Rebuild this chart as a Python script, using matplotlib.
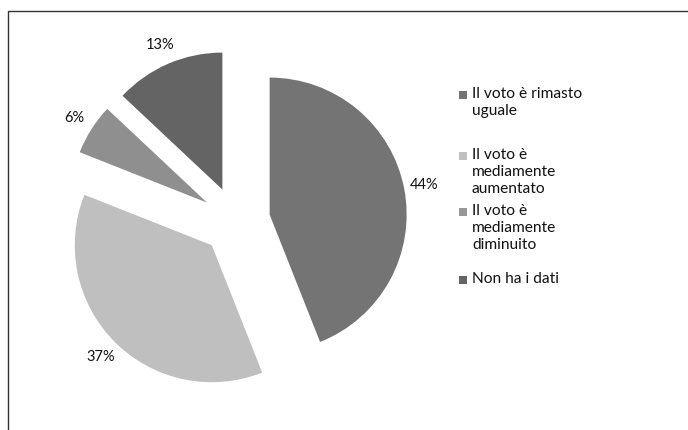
import matplotlib.pyplot as plt
from matplotlib.patches import Rectangle

plt.rcParams['font.family'] = ['Lato', 'DejaVu Sans']

# dati del grafico
categorie = ['Il voto è rimasto\nuguale',
             'Il voto è\nmediamente\naumentato',
             'Il voto è\nmediamente\ndiminuito',
             'Non ha i dati']
percentuali = [44, 37, 6, 13]
colori = ['#747474', '#bfbfbf', '#8f8f8f', '#646464']
colori_legenda = ['#737373', '#c0c0c0', '#979797', '#636363']

fig = plt.figure(figsize=(6.88, 4.30), dpi=100)

# area del grafico quadrata, centro della torta a (236, 221) px
lato = 411
ax = fig.add_axes([(236 - lato / 2) / 688, (430 - 221 - lato / 2) / 430,
                   lato / 688, lato / 430])

ax.pie(percentuali, colors=colori, startangle=90, counterclock=False,
       explode=[0.25] * 4, autopct='%d%%', pctdistance=1.15,
       textprops={'fontsize': 10.5, 'color': '#111111'},
       wedgeprops={'linewidth': 0})
ax.set_xlim(-1.5, 1.5)
ax.set_ylim(-1.5, 1.5)
ax.set_aspect('equal')
ax.axis('off')

# legenda disegnata a mano: spaziatura come nell'originale
y_voci = [95, 156, 212, 280]
for etichetta, colore, y in zip(categorie, colori_legenda, y_voci):
    fig.add_artist(Rectangle((459 / 688, 1 - (y + 4) / 430), 8 / 688, 8 / 430,
                             transform=fig.transFigure, color=colore, lw=0))
    fig.text(472 / 688, 1 - (y - 8) / 430, etichetta, fontsize=11.2,
             va='top', ha='left', color='#111111', linespacing=1.28)

# cornice (visibili solo i lati sinistro e superiore)
fig.add_artist(Rectangle((8 / 688, -0.2), 1.2, 1.2 - 11 / 430,
                         transform=fig.transFigure, fill=False,
                         edgecolor='#333333', lw=1.0))

fig.savefig('out.png', dpi=100)
